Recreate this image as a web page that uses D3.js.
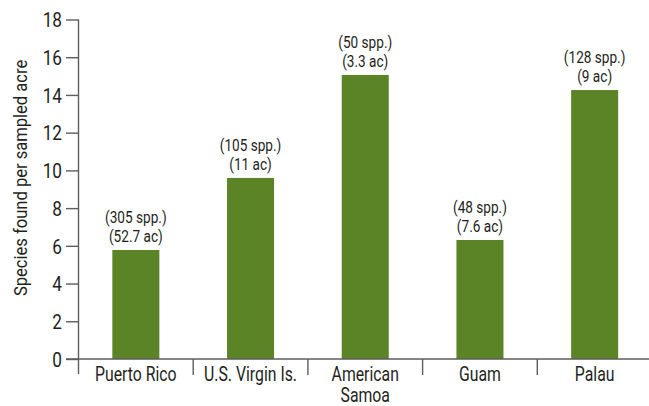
<!DOCTYPE html>
<html>
<head>
<meta charset="utf-8">
<script src="https://cdn.jsdelivr.net/npm/d3@7"></script>
<style>
  body { margin: 0; background: #fff; }
  svg text { font-family: Roboto, "Liberation Sans", sans-serif; fill: #231f20; }
</style>
</head>
<body>
<div id="chart"></div>
<script>
// DATA
const categories = ["Puerto Rico", "U.S. Virgin Is.", "American Samoa", "Guam", "Palau"];
const catLines = [["Puerto Rico"], ["U.S. Virgin Is."], ["American", "Samoa"], ["Guam"], ["Palau"]];
const values = [5.78, 9.6, 15.06, 6.31, 14.26];
const species = ["(305 spp.)", "(105 spp.)", "(50 spp.)", "(48 spp.)", "(128 spp.)"];
const acres = ["(52.7 ac)", "(11 ac)", "(3.3 ac)", "(7.6 ac)", "(9 ac)"];
const yTicks = [0, 2, 4, 6, 8, 10, 12, 14, 16, 18];

const W = 649, H = 406;
const margin = {top: 19.5, left: 78.5};
const width = 573.5,
    height = 359 - margin.top;

const axisColor = "#5d5d5d";
const barColor = "#5b8427";

// squeeze text horizontally to mimic the condensed face of the original,
// then re-anchor it by hand so it stays centred
function condense(sel, f) {
    sel.each(function () {
        const t = d3.select(this);
        const len = this.getComputedTextLength() * f;
        const anchor = window.getComputedStyle(this).textAnchor;
        const x0 = +t.attr("x") || 0;
        let x1 = x0;
        if (anchor === "middle") x1 = x0 - len / 2;
        if (anchor === "end") x1 = x0 - len;
        t.attr("text-anchor", "start")
            .style("text-anchor", "start")
            .attr("x", x1)
            .attr("textLength", len)
            .attr("lengthAdjust", "spacingAndGlyphs");
    });
}

const svg = d3.select("#chart")
    .append("svg")
        .attr("width", W)
        .attr("height", H)
    .append("g")
        .attr("transform", `translate(${margin.left}, ${margin.top})`);

const x = d3.scaleBand()
    .domain(categories)
    .range([0, width])
    .paddingInner(0.59)
    .paddingOuter(0.295);

const xOuter = d3.scaleBand()
    .domain(categories)
    .range([0, width]);

const y = d3.scaleLinear()
    .domain([0, 18])
    .range([height, 0]);

// bars
svg.selectAll("rect.bar")
    .data(values)
    .enter()
    .append("rect")
        .attr("class", "bar")
        .attr("x", (d, i) => x(categories[i]))
        .attr("y", d => y(d))
        .attr("width", x.bandwidth())
        .attr("height", d => height - y(d))
        .attr("fill", barColor);

// y axis
const yAxis = svg.append("g")
    .call(d3.axisLeft(y).tickValues(yTicks).tickSize(12.5).tickPadding(4));
yAxis.select(".domain").remove();
yAxis.selectAll(".tick line").attr("stroke", axisColor).attr("stroke-width", 1.4);
yAxis.selectAll("text")
    .attr("dy", "0.36em")
    .attr("text-anchor", "end")
    .style("font-size", "20px")
    .call(condense, 0.86);

svg.append("line")
    .attr("x1", 0).attr("x2", 0)
    .attr("y1", 0).attr("y2", height + 15)
    .attr("stroke", axisColor).attr("stroke-width", 1.4);

// baseline
svg.append("line")
    .attr("x1", -12.5).attr("x2", W - margin.left)
    .attr("y1", y(0)).attr("y2", y(0))
    .attr("stroke", axisColor).attr("stroke-width", 1.4);

// category separators
svg.selectAll("line.sep")
    .data(categories.slice(1))
    .enter()
    .append("line")
        .attr("class", "sep")
        .attr("x1", d => xOuter(d)).attr("x2", d => xOuter(d))
        .attr("y1", height).attr("y2", height + 16)
        .attr("stroke", axisColor).attr("stroke-width", 1.4);

// category labels
catLines.forEach((lines, i) => {
    const cx = xOuter(categories[i]) + xOuter.bandwidth() / 2;
    lines.forEach((s, j) => {
        svg.append("text")
            .attr("text-anchor", "middle")
            .attr("x", cx)
            .attr("y", height + 22 + j * 21)
            .style("font-size", "19.5px")
            .text(s)
            .call(condense, 0.81);
    });
});

// value annotations
values.forEach((v, i) => {
    const cx = x(categories[i]) + x.bandwidth() / 2;
    [species[i], acres[i]].forEach((s, j) => {
        svg.append("text")
            .attr("text-anchor", "middle")
            .attr("x", cx)
            .attr("y", y(v) - 27 + j * 19)
            .style("font-size", "17px")
            .text(s)
            .call(condense, 0.8);
    });
});

// y title
svg.append("text")
    .attr("transform", `translate(${-52}, ${y(9.6)}) rotate(-90)`)
    .attr("text-anchor", "middle")
    .attr("x", 0)
    .style("font-size", "18px")
    .text("Species found per sampled acre")
    .call(condense, 0.92);
</script>
</body>
</html>
